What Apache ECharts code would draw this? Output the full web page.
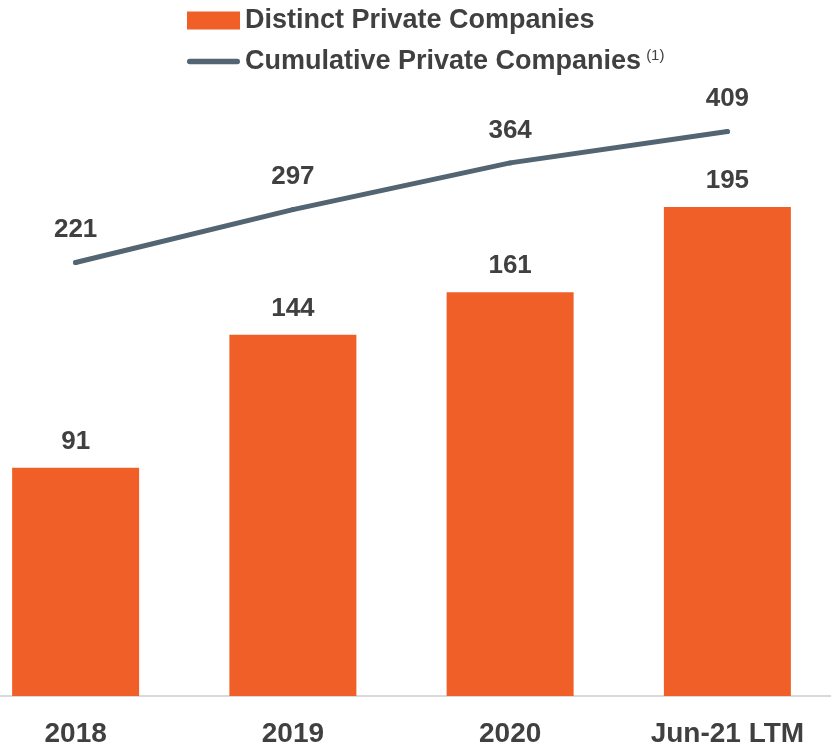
<!DOCTYPE html>
<html>
<head>
<meta charset="utf-8">
<script src="https://cdn.jsdelivr.net/npm/echarts@6/dist/echarts.min.js"></script>
<style>
  html, body { margin: 0; padding: 0; background: #fff; }
  #myChart { width: 831px; height: 745px; }
</style>
</head>
<body>
<div id="myChart"></div>
<script>
// data
var categories = ["2018", "2019", "2020", "Jun-21 LTM"];
var distinctCompanies = [91, 144, 161, 195];
var cumulativeCompanies = [221, 297, 364, 409];

var textColor = "#404040";
var fontFamily = "'Liberation Sans', Arial, sans-serif";

var myChart = echarts.init(document.getElementById("myChart"));

var options = {
  animation: false,
  legend: {
    orient: "vertical",
    left: 187,
    top: 7,
    padding: 0,
    itemWidth: 53,
    itemHeight: 18,
    itemGap: 14,
    symbolKeepAspect: true,
    textStyle: {
      color: textColor,
      fontFamily: fontFamily,
      fontWeight: "bold",
      fontSize: 27,
      lineHeight: 27,
      rich: {
        s: {
          fontSize: 15,
          fontWeight: "normal",
          fontFamily: fontFamily,
          color: textColor,
          verticalAlign: "top",
          lineHeight: 15,
          padding: [0, 0, 26, 5],
        },
      },
    },
    formatter: function (name) {
      // superscript footnote mark on the line series
      if (name === "Cumulative Private Companies") {
        return name + "{s|(1)}";
      }
      return name;
    },
    data: [
      { name: "Distinct Private Companies", icon: "rect" },
      {
        name: "Cumulative Private Companies",
        icon: "path://M5,0 H95 A5,5 0 0 1 95,10 H5 A5,5 0 0 1 5,0 Z",
      },
    ],
  },
  grid: {
    left: -33,
    width: 869,
    top: 90,
    bottom: 49,
    outerBoundsMode: "none",
    containLabel: false,
  },
  xAxis: {
    type: "category",
    data: categories,
    axisLine: { lineStyle: { color: "#d9d9d9", width: 2 } },
    axisTick: { show: false },
    axisLabel: {
      color: textColor,
      fontFamily: fontFamily,
      fontWeight: "bold",
      fontSize: 28,
      margin: 24,
    },
  },
  yAxis: [
    {
      type: "value",
      min: 0,
      max: 241.6,
      show: false,
      splitLine: { show: false },
    },
    {
      type: "value",
      min: -401,
      max: 468.6,
      show: false,
      splitLine: { show: false },
    },
  ],
  series: [
    {
      name: "Distinct Private Companies",
      type: "bar",
      data: distinctCompanies,
      barWidth: 127,
      itemStyle: { color: "#f05f27" },
      label: {
        show: true,
        position: "top",
        distance: 13,
        color: textColor,
        fontFamily: fontFamily,
        fontWeight: "bold",
        fontSize: 26,
      },
    },
    {
      name: "Cumulative Private Companies",
      type: "line",
      yAxisIndex: 1,
      data: cumulativeCompanies,
      symbol: "circle",
      symbolSize: 5,
      itemStyle: { color: "#536472" },
      lineStyle: { color: "#536472", width: 5, cap: "round", join: "round" },
      label: {
        show: true,
        position: "top",
        distance: 17,
        color: textColor,
        fontFamily: fontFamily,
        fontWeight: "bold",
        fontSize: 26,
      },
    },
  ],
};

myChart.setOption(options, true);
</script>
</body>
</html>
